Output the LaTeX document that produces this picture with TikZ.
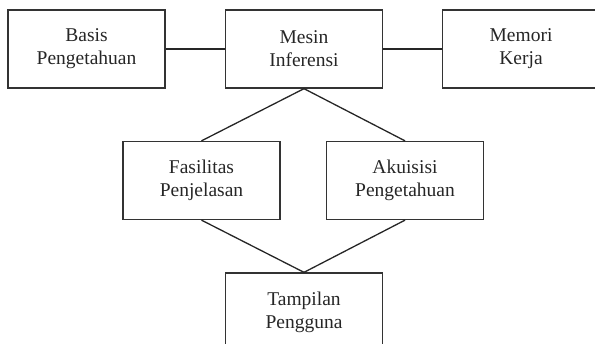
\documentclass[tikz,border=0pt]{standalone}
\usepackage{fontspec}
\setmainfont{Liberation Serif}
\tikzset{
  komponen/.style={draw=black!80, line width=1.3pt, minimum width=157pt, minimum height=78pt,
    align=center, inner sep=2pt, text=black!85, font=\fontsize{19.5}{23}\selectfont},
  hubung/.style={draw=black!85, line width=1.3pt}
}
\begin{document}
\begin{tikzpicture}[x=1pt, y=1pt]
    % batas gambar
    \clip (0,0) rectangle (595,-344);

    % komponen sistem pakar
    \node[komponen] (basis)   at (86.5, -49)  {Basis\\Pengetahuan};
    \node[komponen] (mesin)   at (304, -49)   {Mesin\\Inferensi};
    \node[komponen] (memori)  at (521, -49)   {Memori\\Kerja};
    \node[komponen] (fasilitas) at (201.5, -180.5) {Fasilitas\\Penjelasan};
    \node[komponen] (akuisisi)  at (405, -180.5)   {Akuisisi\\Pengetahuan};
    \node[komponen] (tampilan)  at (304, -312)     {Tampilan\\Pengguna};

    % hubungan antar komponen
    \draw[hubung] (basis) -- (mesin);
    \draw[hubung] (mesin) -- (memori);
    \draw[hubung] (mesin.south) -- (fasilitas.north);
    \draw[hubung] (mesin.south) -- (akuisisi.north);
    \draw[hubung] (fasilitas.south) -- (tampilan.north);
    \draw[hubung] (akuisisi.south) -- (tampilan.north);
\end{tikzpicture}
\end{document}
